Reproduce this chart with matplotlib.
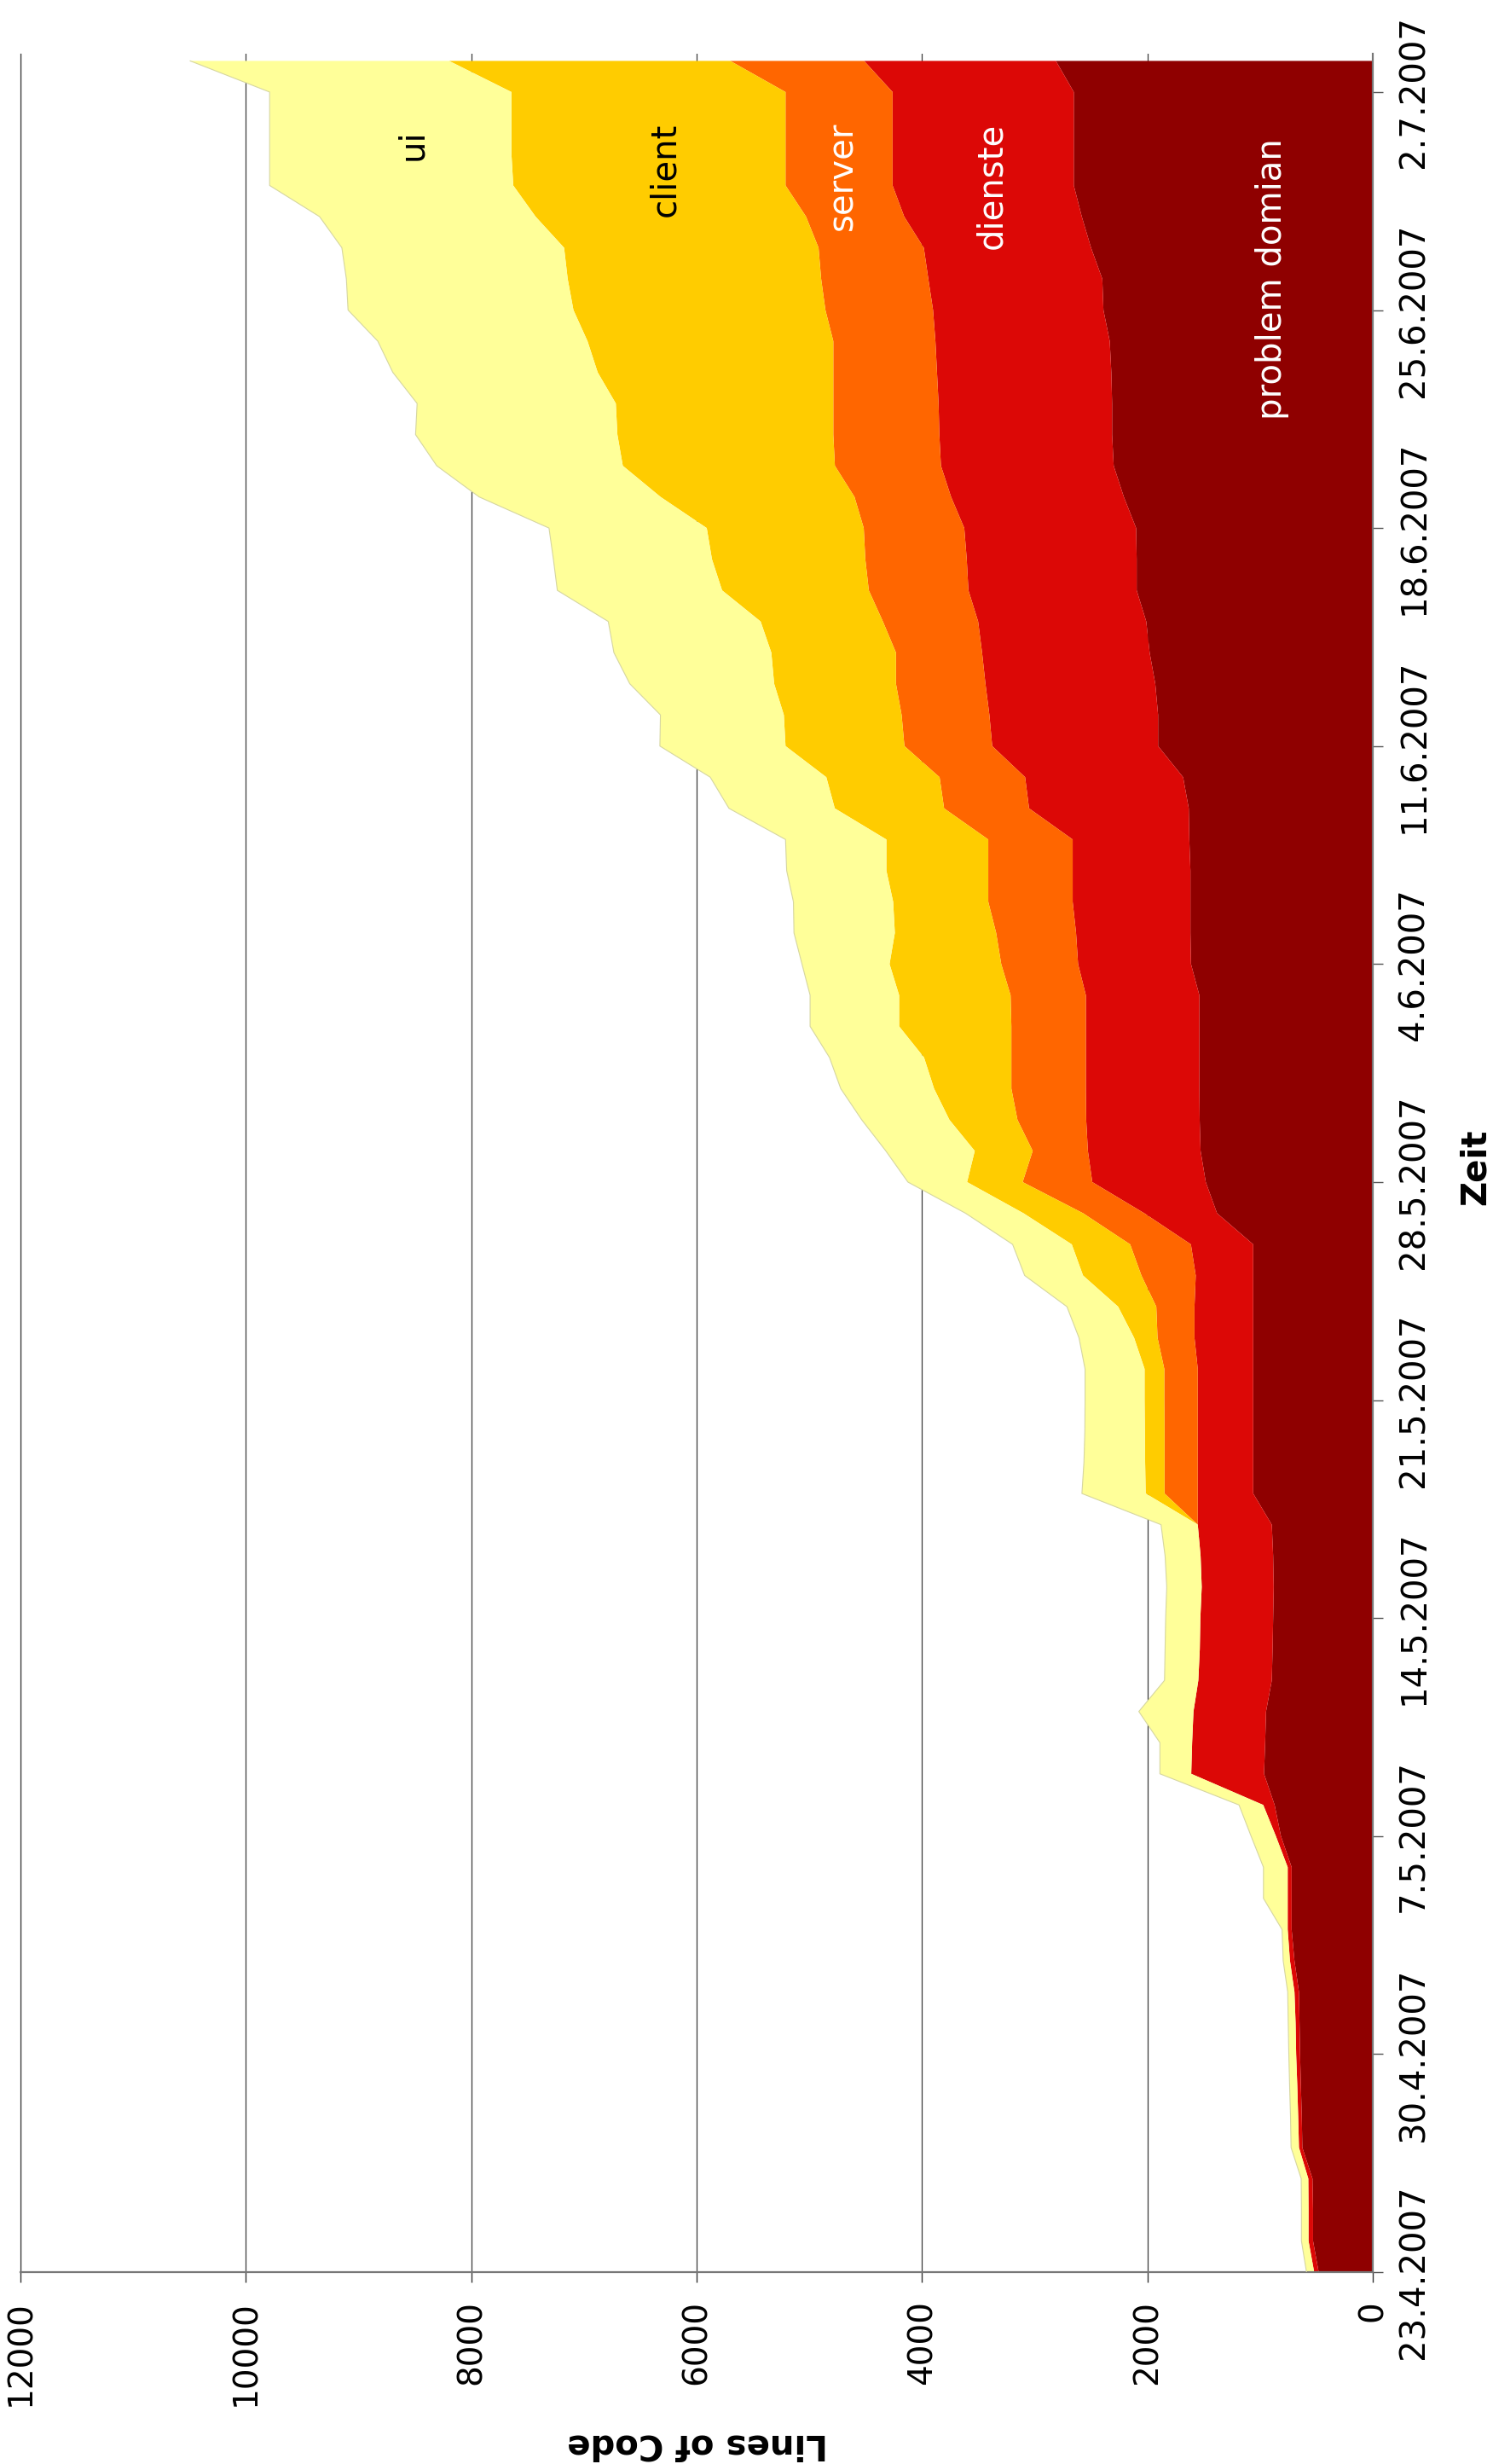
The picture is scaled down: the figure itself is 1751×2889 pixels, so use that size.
import numpy as np
import matplotlib
matplotlib.use("Agg")
import matplotlib.pyplot as plt

plt.rcParams['font.family'] = ['DejaVu Sans']

# day index 0 = 23.4.2007 ... 71 = 3.7.2007
days = np.arange(72)

tick_days = [0, 7, 14, 21, 28, 35, 42, 49, 56, 63, 70]
tick_labels = ["23.4.2007", "30.4.2007", "7.5.2007", "14.5.2007", "21.5.2007",
               "28.5.2007", "4.6.2007", "11.6.2007", "18.6.2007", "25.6.2007",
               "2.7.2007"]

# lines of code per layer
problem_domian = [480, 530, 530, 535, 625, 630, 638, 645, 650, 655, 695, 720, 720, 720,
                  815, 871, 965, 955, 947, 896, 889, 884, 879, 884, 896, 1061, 1061, 1061,
                  1061, 1061, 1061, 1061, 1061, 1061, 1382, 1482, 1528, 1536, 1539, 1539, 1539, 1539,
                  1613, 1618, 1618, 1618, 1628, 1633, 1683, 1905, 1905, 1930, 1980, 2010, 2095, 2095,
                  2100, 2209, 2299, 2313, 2313, 2320, 2334, 2390, 2400, 2500, 2582, 2653, 2653, 2653,
                  2653, 2812]
dienste = [40, 40, 40, 37, 30, 32, 32, 35, 35, 40, 40, 35, 35, 35,
           45, 101, 646, 648, 644, 652, 646, 646, 639, 644, 657, 492, 492, 492,
           492, 492, 521, 521, 510, 553, 646, 1007, 1000, 1007, 1007, 1007, 1007, 1007,
           1002, 1015, 1045, 1045, 1035, 1417, 1402, 1472, 1497, 1507, 1487, 1492, 1493, 1508,
           1525, 1533, 1533, 1533, 1540, 1547, 1547, 1512, 1544, 1484, 1576, 1608, 1608, 1608,
           1608, 1702]
server = [0, 0, 0, 0, 0, 0, 0, 0, 0, 0, 0, 0, 0, 0,
          0, 0, 0, 0, 0, 0, 0, 0, 0, 0, 0, 295, 295, 295,
          297, 297, 328, 339, 482, 539, 543, 618, 490, 610, 661, 661, 661, 668,
          682, 709, 749, 749, 749, 754, 759, 779, 779, 794, 764, 845, 884, 900,
          892, 857, 941, 941, 934, 920, 906, 955, 951, 934, 871, 950, 950, 950,
          950, 1188]
client = [0, 0, 0, 0, 0, 0, 0, 0, 0, 0, 0, 0, 0, 0,
          0, 0, 0, 0, 0, 0, 0, 0, 0, 0, 0, 167, 172, 174,
          175, 175, 208, 339, 518, 518, 529, 493, 514, 604, 686, 775, 996, 989,
          991, 899, 844, 904, 904, 970, 1005, 1055, 1045, 1081, 1106, 1085, 1302, 1361,
          1393, 1721, 1882, 1916, 1930, 2091, 2181, 2236, 2249, 2258, 2400, 2416, 2432, 2432,
          2432, 2495]
ui = [68, 63, 63, 63, 70, 68, 68, 65, 65, 60, 60, 50, 215, 215,
      220, 215, 278, 286, 485, 300, 308, 308, 310, 315, 326, 566, 543, 533,
      528, 528, 489, 454, 518, 525, 514, 525, 789, 778, 828, 839, 790, 790,
      777, 895, 885, 885, 895, 939, 1030, 1115, 1095, 1281, 1397, 1352, 1462, 1407,
      1400, 1610, 1651, 1791, 1763, 1818, 1861, 2000, 1964, 1972, 1917, 2162, 2146, 2146,
      2146, 2297]

series = [problem_domian, dienste, server, client, ui]
names = ["problem domian", "dienste", "server", "client", "ui"]
colors = ["#8f0000", "#dc0806", "#ff6600", "#ffcc00", "#ffff99"]
text_colors = ["white", "white", "white", "black", "black"]
label_pos = [(890, 64.0), (3380, 67.0), (4700, 67.3), (6280, 67.5), (8520, 68.3)]

W, H = 1751, 2889
fig = plt.figure(figsize=(W / 100, H / 100), dpi=100)
ax = fig.add_axes([24 / W, 1 - 2664 / H, (1610 - 24) / W, (2664 - 63) / H])

bottom = np.zeros(len(days))
for vals, col in zip(series, colors):
    top = bottom + np.array(vals)
    ax.fill_betweenx(days, bottom, top, facecolor=col, edgecolor="none", zorder=2)
    bottom = top
# thin outline on the outer edge
ax.plot(bottom, days, color="#d6d6a0", linewidth=0.8, zorder=3)

for name, (xv, yv), tc in zip(names, label_pos, text_colors):
    ax.text(xv, yv, name, rotation=90, ha="center", va="center",
            fontsize=29, color=tc, zorder=4)

ax.set_xlim(12000, 0)
ax.set_ylim(0, 71.23)

ax.set_xticks(np.arange(0, 12001, 2000))
ax.set_xticklabels([str(v) for v in range(0, 12001, 2000)], rotation=90, fontsize=28)
ax.yaxis.tick_right()
ax.set_yticks(tick_days)
ax.set_yticklabels(tick_labels, rotation=90, va="center", fontsize=29)

ax.tick_params(axis="x", direction="out", length=8.6, width=1, color="#333333", pad=15)
ax.tick_params(axis="y", direction="out", length=8.6, width=1, color="#555555", pad=12)

ax.grid(axis="x", color="#3a3a3a", linewidth=0.9, zorder=1)
ax.grid(axis="y", visible=False)
ax.set_axisbelow(True)

ax.spines["top"].set_visible(False)
ax.spines["left"].set_color("#3a3a3a")
ax.spines["left"].set_linewidth(0.9)
ax.spines["bottom"].set_color("#777777")
ax.spines["bottom"].set_linewidth(1.6)
ax.spines["right"].set_color("#777777")
ax.spines["right"].set_linewidth(1.6)

fig.text(1731 / W, 1 - 1368 / H, "Zeit", rotation=90, ha="center", va="center",
         fontsize=29, fontweight="bold")
fig.text(818 / W, 1 - 2866 / H, "Lines of Code", rotation=180, ha="center", va="center",
         fontsize=29, fontweight="bold")

fig.savefig("out.png", dpi=100)
